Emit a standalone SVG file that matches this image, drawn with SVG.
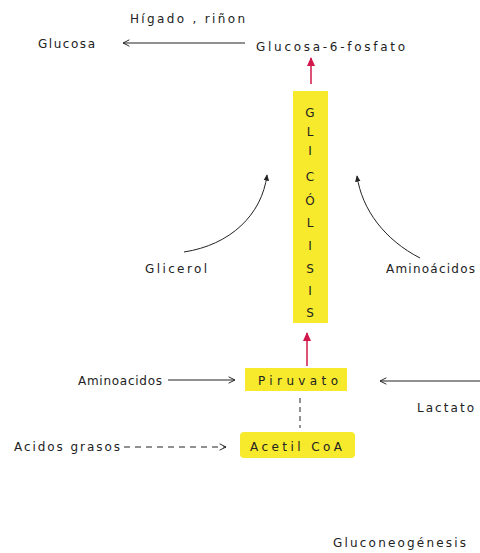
<svg xmlns="http://www.w3.org/2000/svg" width="480" height="553" viewBox="0 0 480 553">
<defs>
<style>
text{font-family:"DejaVu Sans","Liberation Sans",sans-serif;font-size:12px;fill:#222;lengthAdjust:spacing;}
.c{stroke:#222;stroke-width:1;fill:none;}
.r{stroke:#d0184a;stroke-width:1.5;fill:none;}
.y{fill:#f7ea2c;}
</style>
<marker id="a" viewBox="0 0 10 10" refX="9" refY="5" markerWidth="8" markerHeight="8" orient="auto-start-reverse"><path d="M1,1 L9,5 L1,9" fill="none" stroke="#222" stroke-width="1.2"/></marker>
<marker id="af" viewBox="0 0 10 10" refX="8" refY="5" markerWidth="7" markerHeight="7" orient="auto"><path d="M0,1 L9,5 L0,9 Z" fill="#222"/></marker>
<marker id="ar" viewBox="0 0 10 10" refX="8" refY="5" markerWidth="7" markerHeight="7" orient="auto"><path d="M0,1 L9,5 L0,9 Z" fill="#d0184a"/></marker>
</defs>
<rect width="480" height="553" fill="#fff"/>
<g id="glucosa"><text x="38" y="48" textLength="57">Glucosa</text></g>
<g id="higado"><text x="130" y="23" textLength="115">Hígado , riñon</text></g>
<g id="g6p"><text x="256" y="51" textLength="149">Glucosa-6-fosfato</text></g>
<g id="glucolisis">
<rect class="y" x="293" y="91" width="35" height="232"/>
<g text-anchor="middle">
<text x="310" y="117">G</text>
<text x="310" y="136">L</text>
<text x="310" y="155">I</text>
<text x="310" y="181">C</text>
<text x="310" y="205">Ó</text>
<text x="310" y="227">L</text>
<text x="310" y="250">I</text>
<text x="310" y="273">S</text>
<text x="310" y="295">I</text>
<text x="310" y="317">S</text>
</g>
</g>
<g id="glicerol"><text x="145" y="273" textLength="62">Glicerol</text></g>
<g id="aminoacidos1"><text x="386" y="273" textLength="89">Aminoácidos</text></g>
<g id="piruvato">
<rect class="y" x="245" y="368" width="102" height="23"/>
<text x="258" y="385" textLength="80">Piruvato</text>
</g>
<g id="aminoacidos2"><text x="78" y="385" textLength="84">Aminoacidos</text></g>
<g id="lactato"><text x="417" y="412" textLength="57">Lactato</text></g>
<g id="acetilcoa">
<rect class="y" x="240" y="432" width="115" height="26" rx="4"/>
<text x="250" y="451" textLength="92">Acetil CoA</text>
</g>
<g id="acidos"><text x="14" y="451" textLength="106">Acidos grasos</text></g>
<g id="gluconeo"><text x="333" y="547" textLength="133">Gluconeogénesis</text></g>
<g id="connectors">
<line class="c" x1="245" y1="43" x2="123" y2="43" marker-end="url(#a)"/>
<line class="r" x1="311" y1="84" x2="311" y2="58" marker-end="url(#ar)"/>
<line class="r" x1="307" y1="366" x2="307" y2="333" marker-end="url(#ar)"/>
<path class="c" d="M184,252 C230,245 262,215 267,175" marker-end="url(#af)"/>
<path class="c" d="M420,258 C385,240 362,210 357,176" marker-end="url(#af)"/>
<line class="c" x1="168" y1="380" x2="235" y2="380" marker-end="url(#a)"/>
<line class="c" x1="480" y1="381" x2="380" y2="381" marker-end="url(#a)"/>
<line class="c" x1="300" y1="398" x2="300" y2="428" stroke-dasharray="5,4"/>
<line class="c" x1="124" y1="447" x2="226" y2="447" stroke-dasharray="6,5" marker-end="url(#a)"/>
</g>
</svg>
